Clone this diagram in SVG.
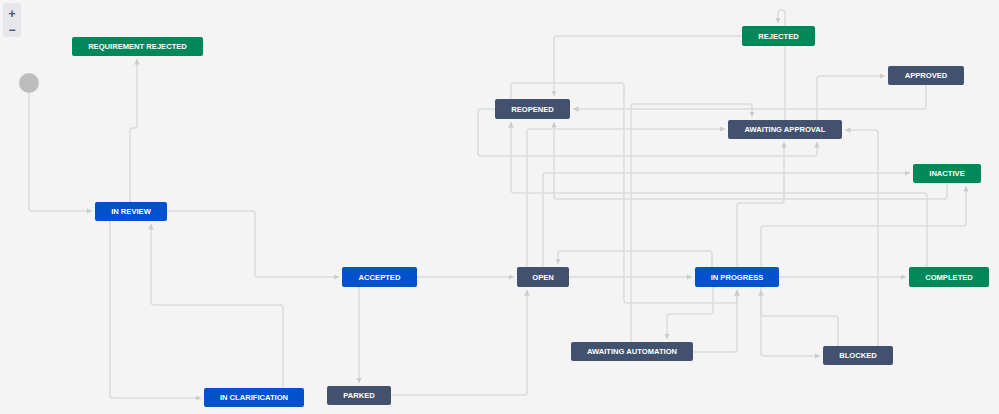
<svg xmlns="http://www.w3.org/2000/svg" width="999" height="414" viewBox="0 0 999 414">
<defs>
<style>
.bg{fill:#f4f4f4}
.c path{fill:none;stroke:#dadbdd;stroke-width:1.5;marker-end:url(#ar)}
.n rect{rx:2;ry:2}
.g rect{fill:#00875a}
.b rect{fill:#0052cc}
.d rect{fill:#42526e}
.n text{font-family:"Liberation Sans",Arial,sans-serif;font-weight:bold;font-size:7.6px;fill:#ffffff;text-anchor:middle}
.zm text{font-family:"Liberation Sans",Arial,sans-serif;font-weight:bold;font-size:12px;fill:#42526e;text-anchor:middle}
</style>
<marker id="ar" viewBox="0 0 6 6" refX="6" refY="3" markerWidth="5.5" markerHeight="5.5" markerUnits="userSpaceOnUse" orient="auto">
<path d="M0,0 L6,3 L0,6 z" fill="#c8ccd2"/>
</marker>
</defs>
<rect class="bg" x="0" y="0" width="999" height="414"/>
<g id="zoom-controls" class="zm">
<rect x="3" y="3" width="18" height="34" rx="2" fill="#e6e7ea"/>
<text x="12" y="18">+</text>
<text x="12" y="34">−</text>
</g>
<g id="connectors" class="c">
<path d="M29,93 V208 Q29,211 32,211 H92"/>
<path d="M130,202 V131 Q130,128 133,128 H134 Q137,128 137,125 V59"/>
<path d="M167,211 H252 Q255,211 255,214 V274 Q255,277 258,277 H339"/>
<path d="M110,221 V395 Q110,398 113,398 H201"/>
<path d="M283,388 V308 Q283,305 280,305 H154 Q151,305 151,302 V224"/>
<path d="M417,277 H514"/>
<path d="M359,287 V383"/>
<path d="M391,395 H524 Q527,395 527,392 V290"/>
<path d="M569,277 H692"/>
<path d="M712,267 V254 Q712,251 709,251 H561 Q558,251 558,254 V264"/>
<path d="M713,287 V311 Q713,314 710,314 H670 Q667,314 667,317 V339"/>
<path d="M693,352 H734 Q737,352 737,349 V290"/>
<path d="M761,287 V353 Q761,356 764,356 H820"/>
<path d="M838,346 V319 Q838,316 835,316 H764 Q761,316 761,313 V290"/>
<path d="M779,277 H906"/>
<path d="M761,267 V229 Q761,226 764,226 H963 Q966,226 966,223 V186"/>
<path d="M737,267 V206 Q737,203 740,203 H781 Q784,203 784,200 V142"/>
<path d="M495,109 H481 Q478,109 478,112 V153 Q478,156 481,156 H814 Q817,156 817,153 V142"/>
<path d="M543,267 V176 Q543,173 546,173 H910"/>
<path d="M785,120 V13 Q785,10 782,10 H781 Q778,10 778,13 V23"/>
<path d="M742,36 H557 Q554,36 554,39 V96"/>
<path d="M926,85 V106 Q926,109 923,109 H573"/>
<path d="M631,342 V107 Q631,104 634,104 H749 Q752,104 752,107 V117"/>
<path d="M511,99 V86 Q511,83 514,83 H621 Q624,83 624,86 V300 Q624,303 627,303 H734 Q737,303 737,300 V290"/>
<path d="M527,267 V132 Q527,129 530,129 H725"/>
<path d="M927,267 V196 Q927,193 924,193 H514 Q511,193 511,190 V122"/>
<path d="M947,183 V196 Q947,199 944,199 H557 Q554,199 554,196 V122"/>
<path d="M878,346 V133 Q878,130 875,130 H845"/>
<path d="M817,120 V79 Q817,76 820,76 H885"/>
</g>
<g id="start"><circle cx="29" cy="83" r="10" fill="#bdbdbd"/></g>
<g id="requirement-rejected" class="n g"><rect x="72" y="37" width="131" height="19"/><text x="137.5" y="49.2">REQUIREMENT REJECTED</text></g>
<g id="in-review" class="n b"><rect x="95" y="202" width="72" height="19"/><text x="131" y="214.2">IN REVIEW</text></g>
<g id="in-clarification" class="n b"><rect x="204" y="388" width="100" height="19"/><text x="254" y="400.2">IN CLARIFICATION</text></g>
<g id="accepted" class="n b"><rect x="342" y="267" width="75" height="20"/><text x="379.5" y="279.7">ACCEPTED</text></g>
<g id="parked" class="n d"><rect x="327" y="386" width="64" height="19"/><text x="359" y="398.2">PARKED</text></g>
<g id="open" class="n d"><rect x="517" y="267" width="52" height="20"/><text x="543" y="279.7">OPEN</text></g>
<g id="awaiting-automation" class="n d"><rect x="571" y="342" width="122" height="19"/><text x="632" y="354.2">AWAITING AUTOMATION</text></g>
<g id="in-progress" class="n b"><rect x="695" y="267" width="84" height="20"/><text x="737" y="279.7">IN PROGRESS</text></g>
<g id="blocked" class="n d"><rect x="823" y="346" width="70" height="19"/><text x="858" y="358.2">BLOCKED</text></g>
<g id="completed" class="n g"><rect x="909" y="267" width="80" height="20"/><text x="949" y="279.7">COMPLETED</text></g>
<g id="inactive" class="n g"><rect x="913" y="164" width="68" height="19"/><text x="947" y="176.2">INACTIVE</text></g>
<g id="awaiting-approval" class="n d"><rect x="728" y="120" width="114" height="19"/><text x="785" y="132.2">AWAITING APPROVAL</text></g>
<g id="approved" class="n d"><rect x="888" y="66" width="76" height="19"/><text x="926" y="78.2">APPROVED</text></g>
<g id="rejected" class="n g"><rect x="742" y="26" width="73" height="20"/><text x="778.5" y="38.7">REJECTED</text></g>
<g id="reopened" class="n d"><rect x="495" y="99" width="75" height="20"/><text x="532.5" y="111.7">REOPENED</text></g>
</svg>
